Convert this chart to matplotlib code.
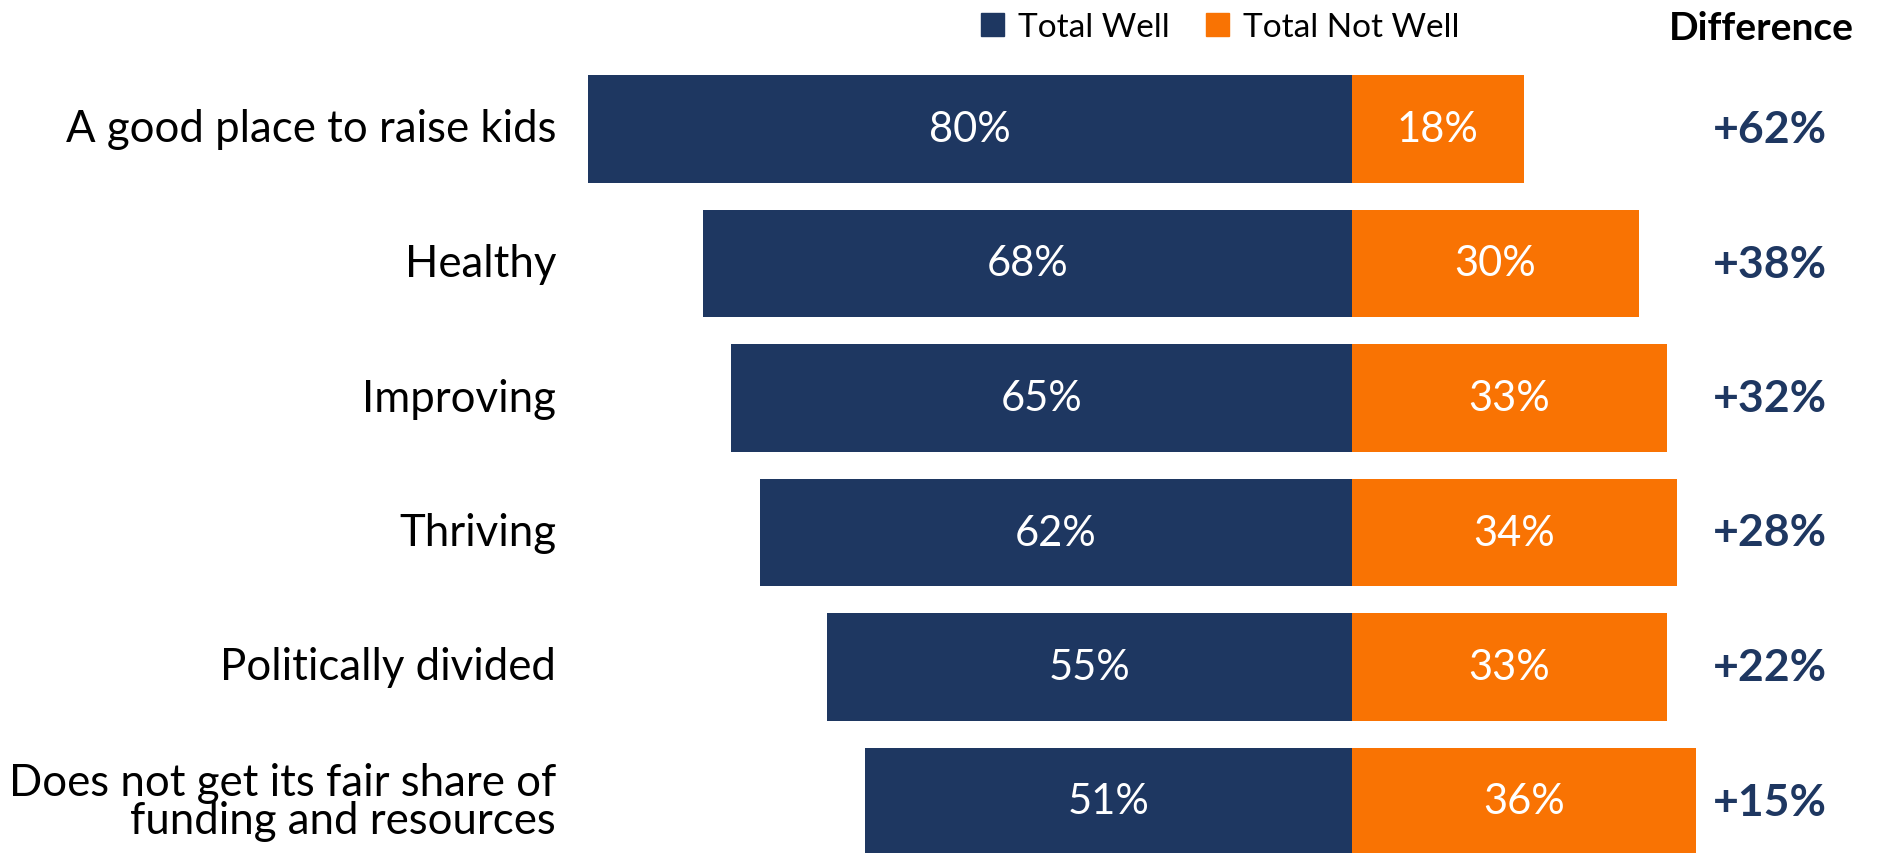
import matplotlib
matplotlib.use("Agg")
import matplotlib.pyplot as plt
from matplotlib.patches import Patch

categories = [
    "A good place to raise kids",
    "Healthy",
    "Improving",
    "Thriving",
    "Politically divided",
    "Does not get its fair share of\nfunding and resources",
]
total_well = [80, 68, 65, 62, 55, 51]
total_not_well = [18, 30, 33, 34, 33, 36]
difference = ["+62%", "+38%", "+32%", "+28%", "+22%", "+15%"]

NAVY = "#1E3761"
ORANGE = "#F97303"
FONT = "Lato"

W, H = 1883, 854
fig = plt.figure(figsize=(W / 100, H / 100), dpi=100)
ax = fig.add_axes([0, 0, 1, 1])
ax.set_axis_off()

# horizontal scale: pixels per percentage point, zero line position
ppu = 9.55
x0 = 1352
ax.set_xlim(-x0 / ppu, (W - x0) / ppu)
# vertical: first row centre and row pitch in pixels
y_first, pitch = 130, 134.5
ax.set_ylim((H - y_first) / pitch, -y_first / pitch)

ypos = list(range(len(categories)))
ax.barh(ypos, [-v for v in total_well], height=0.8, color=NAVY, label="Total Well")
ax.barh(ypos, total_not_well, height=0.8, color=ORANGE, label="Total Not Well")

label_x = (556 - x0) / ppu
diff_x = (1770 - x0) / ppu
for i, (cat, w, n, d) in enumerate(zip(categories, total_well, total_not_well, difference)):
    ax.text(label_x, i, cat, ha="right", va="center", fontsize=31.5,
            family=FONT, color="black", linespacing=0.9)
    ax.text(-w / 2, i, f"{w}%", ha="center", va="center", fontsize=30,
            family=FONT, color="white")
    ax.text(n / 2, i, f"{n}%", ha="center", va="center", fontsize=30,
            family=FONT, color="white")
    ax.text(diff_x, i, d, ha="center", va="center", fontsize=32,
            family=FONT, fontweight="bold", color=NAVY)

fig.text(1761 / W, 1 - 28 / H, "Difference", ha="center", va="center",
         fontsize=28, family=FONT, fontweight="bold", color="black")

handles = [Patch(color=NAVY, label="Total Well"), Patch(color=ORANGE, label="Total Not Well")]
fig.legend(handles=handles, loc="center", bbox_to_anchor=(1220 / W, 1 - 28 / H),
           ncol=2, frameon=False, prop={"family": FONT, "size": 24},
           handlelength=0.7, handleheight=0.7, handletextpad=0.4, columnspacing=1.1,
           borderaxespad=0, borderpad=0)

fig.savefig("out.png", dpi=100)
